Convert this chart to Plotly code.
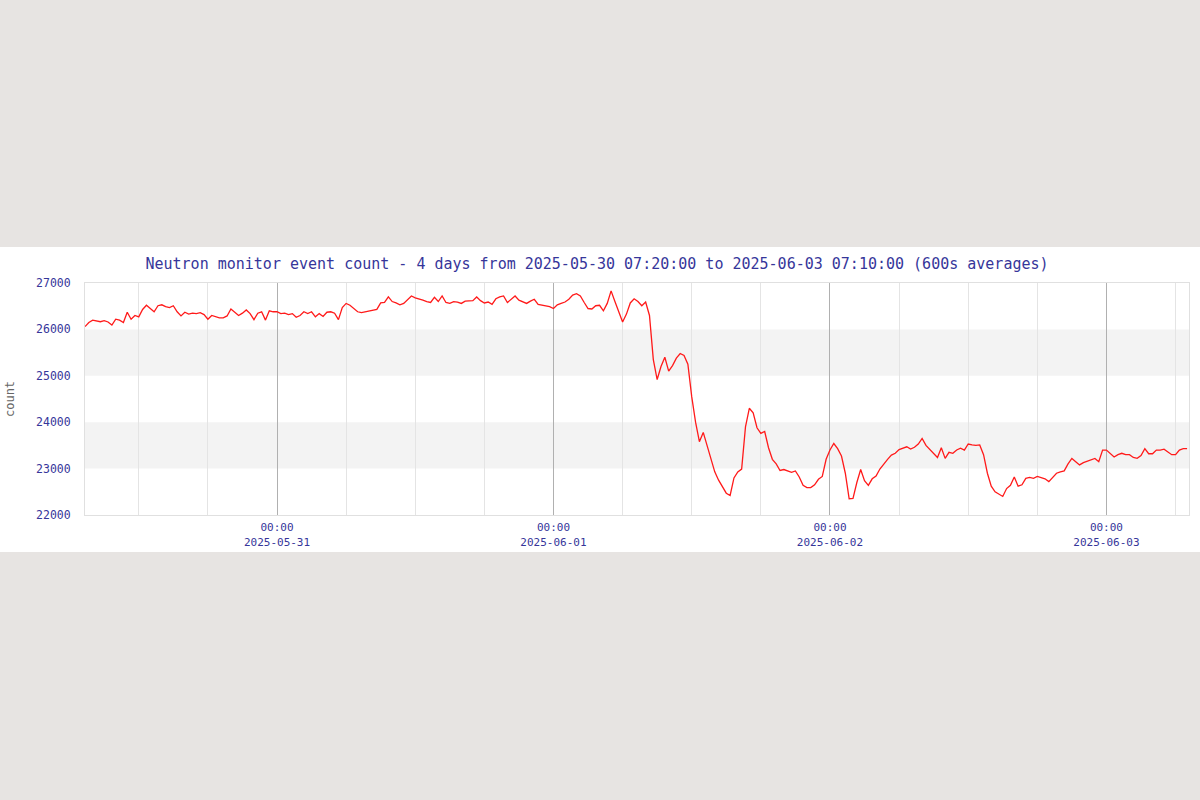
import pandas as pd
import plotly.graph_objects as go

# ---- data (600s-average neutron counts, read every 20 min from the picture) ----
start_time = "2025-05-30 07:20:00"
end_time = "2025-06-03 07:10:00"
step = "20min"

counts_day1 = [
    26060, 26150, 26200, 26180, 26165, 26190, 26160, 26095, 26220, 26200,
    26150, 26370, 26220, 26300, 26270, 26430, 26520, 26450, 26380, 26510,
    26530, 26490, 26470, 26510, 26380, 26290, 26370, 26330, 26350, 26340,
    26360, 26320, 26220, 26300, 26280, 26250, 26250, 26290, 26440, 26360,
]
counts_day2 = [
    26300, 26350, 26420, 26340, 26210, 26350, 26380, 26200, 26400, 26380,
    26380, 26340, 26350, 26320, 26340, 26260, 26300, 26380, 26340, 26380,
    26270, 26340, 26280, 26370, 26380, 26350, 26210, 26470, 26560, 26520,
    26440, 26380, 26360, 26380, 26400, 26420, 26430, 26570, 26580, 26700,
    26600, 26570, 26530, 26560, 26640, 26720, 26680, 26660, 26630, 26600,
    26580, 26690, 26600, 26720, 26580, 26560, 26600, 26590, 26560, 26610,
    26620, 26620, 26700, 26620, 26570, 26590, 26540, 26660, 26700, 26720,
    26580, 26660, 26720, 26630, 26590, 26560, 26610, 26650, 26540, 26520,
    26510, 26490,
]
counts_day3 = [
    26450, 26530, 26560, 26590, 26650, 26740, 26770, 26720, 26580, 26450,
    26440, 26510, 26520, 26400, 26560, 26830, 26600, 26370, 26160, 26330,
    26570, 26660, 26600, 26510, 26590, 26300, 25350, 24920, 25200, 25400,
    25100, 25220, 25380, 25480, 25440, 25250, 24550, 24000, 23580, 23780,
    23500, 23230, 22930, 22750, 22600, 22470, 22420, 22800, 22930, 22990,
    23900, 24300, 24200, 23880, 23760, 23800, 23450, 23200, 23100, 22960,
    22980, 22950, 22920,
]
counts_day4 = [
    22950, 22820, 22640, 22590, 22590, 22650, 22770, 22830, 23200, 23400,
    23540, 23430, 23270, 22900, 22350, 22360, 22700, 22980, 22740, 22640,
    22780, 22840, 22990, 23100, 23200, 23290, 23330, 23410, 23440, 23470,
    23420, 23460, 23530, 23650, 23500, 23420, 23330, 23240, 23450, 23220,
    23350, 23330, 23400, 23440, 23400, 23530, 23510, 23500, 23510, 23300,
    22900, 22620, 22500, 22440, 22400, 22570, 22640, 22820, 22620, 22650,
    22790, 22810, 22790, 22830, 22800, 22780, 22720, 22810, 22900, 22930,
    22950, 23100, 23220, 23150, 23080, 23130, 23160, 23190, 23220, 23150,
    23400, 23400, 23320, 23250, 23300, 23330, 23300, 23300, 23240, 23220,
    23280, 23430, 23320, 23320, 23400, 23400, 23420, 23350, 23300, 23300,
    23400, 23430, 23430,
]
counts = counts_day1 + counts_day2 + counts_day3 + counts_day4
times = pd.date_range(start_time, periods=len(counts), freq=step)

y_ticks = [22000, 23000, 24000, 25000, 26000, 27000]
shaded_bands = [(25000, 26000), (23000, 24000)]
title_text = ("Neutron monitor event count - 4 days from 2025-05-30 07:20:00 "
              "to 2025-06-03 07:10:00 (600s averages)")

# ---- style ----
PAGE_BG = "#e7e4e2"
LABEL_BLUE = "#36369a"
MONO = "DejaVu Sans Mono"
W, H = 1200, 800
ML, MR, MT, MB = 85, 11, 283, 285
pw = W - ML - MR
ph = H - MT - MB

fig = go.Figure()
fig.add_trace(go.Scatter(x=times, y=counts, mode="lines",
                         line=dict(color="#ff1a1a", width=1.3),
                         showlegend=False, hoverinfo="x+y"))

shapes = []
# white band behind the whole chart
band_top_px, band_bot_px = 247, 552
shapes.append(dict(type="rect", xref="paper", yref="paper",
                   x0=-ML / pw - 0.01, x1=(W - ML) / pw + 0.01,
                   y0=-(band_bot_px - (H - MB)) / ph,
                   y1=1 + (MT - band_top_px) / ph,
                   fillcolor="white", line=dict(width=0), layer="below"))
for lo, hi in shaded_bands:
    shapes.append(dict(type="rect", xref="x domain", yref="y",
                       x0=0, x1=1, y0=lo, y1=hi,
                       fillcolor="#f3f3f3", line=dict(width=0), layer="below"))

fig.update_layout(
    width=W, height=H,
    margin=dict(l=ML, r=MR, t=MT, b=MB, autoexpand=False),
    paper_bgcolor=PAGE_BG,
    plot_bgcolor="rgba(0,0,0,0)",
    shapes=shapes,
    font=dict(family=MONO, color=LABEL_BLUE),
    title=dict(text=title_text, x=597 / W, xref="container", xanchor="center",
               y=1 - 264 / H, yref="container", yanchor="middle",
               font=dict(family=MONO, size=15, color=LABEL_BLUE)),
)

fig.update_xaxes(
    type="date",
    range=[start_time, end_time],
    tick0="2025-05-31 00:00:00", dtick=86400000,
    tickformat="%H:%M<br>%Y-%m-%d",
    tickfont=dict(family=MONO, size=11, color=LABEL_BLUE),
    ticklabelstandoff=2,
    automargin=False,
    showgrid=True, gridcolor="#b0b0b0", gridwidth=1,
    minor=dict(tick0="2025-05-30 12:00:00", dtick=21600000,
               showgrid=True, gridcolor="#e4e4e4", gridwidth=1),
    showline=True, mirror=True, linecolor="#e0e0e0", linewidth=1,
    ticks="", zeroline=False,
)
fig.update_yaxes(
    range=[22000, 27000],
    tickvals=y_ticks, ticktext=[str(v) for v in y_ticks],
    tickfont=dict(family=MONO, size=11.5, color=LABEL_BLUE),
    ticklabelstandoff=11,
    automargin=False,
    showgrid=False, zeroline=False,
    showline=True, mirror=True, linecolor="#e0e0e0", linewidth=1,
    ticks="",
    title=dict(text="count", standoff=18,
               font=dict(family=MONO, size=12, color="#666666")),
)

fig.write_html(
    "out.html",
    config={"displayModeBar": False},
    post_script=("document.body.style.margin='0';"
                 "document.body.style.background='" + PAGE_BG + "';"),
)
